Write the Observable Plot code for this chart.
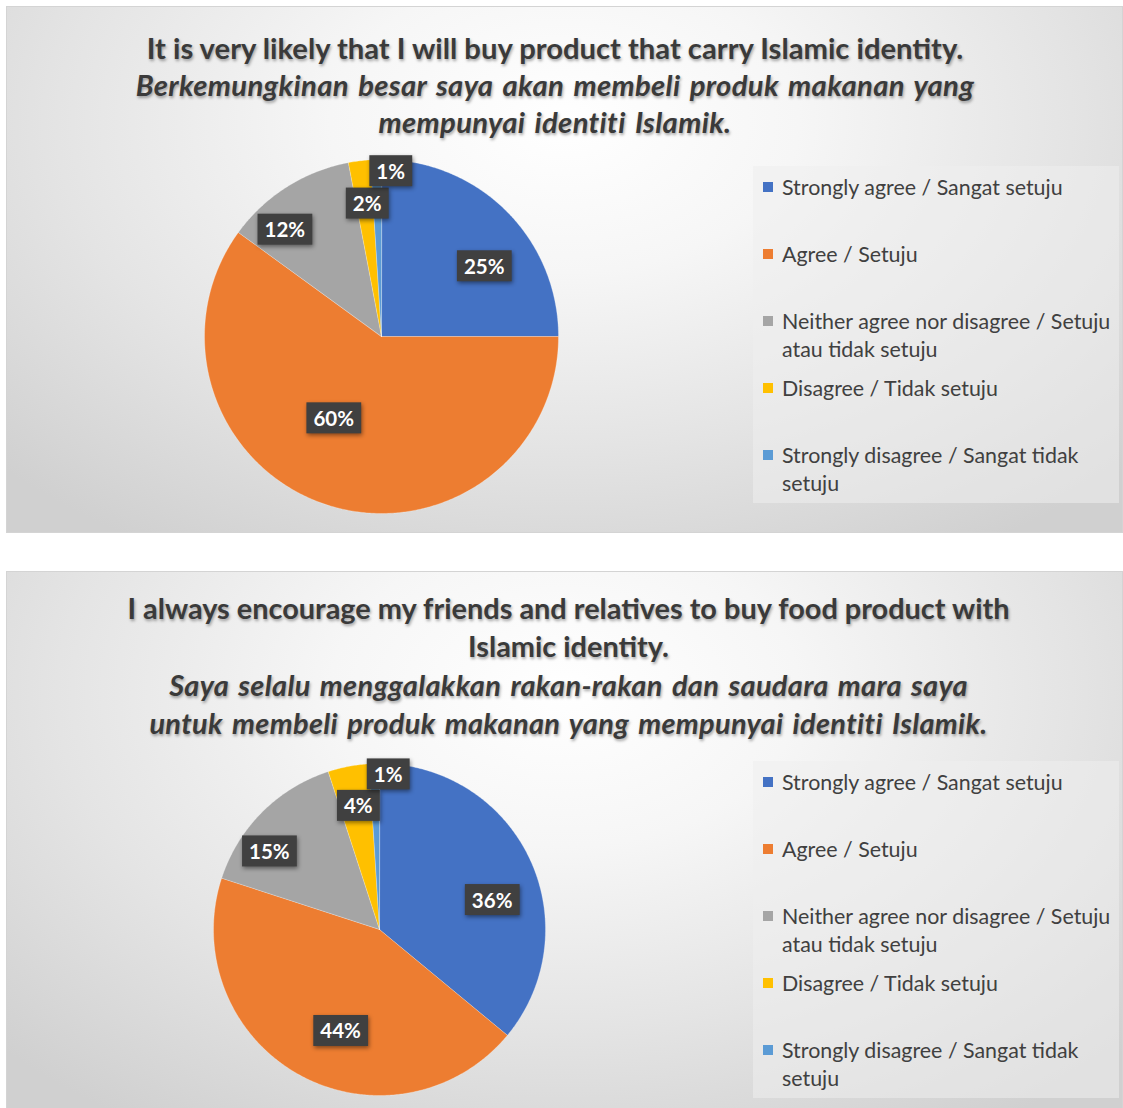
<!DOCTYPE html>
<html>
<head>
<meta charset="utf-8">
<script src="https://cdn.jsdelivr.net/npm/d3@7"></script>
<script src="https://cdn.jsdelivr.net/npm/@observablehq/plot@0.6"></script>
<style>
  html, body { margin: 0; padding: 0; background: #ffffff; }
  body { width: 1123px; height: 1108px; position: relative; overflow: hidden; font-family: Lato, "Open Sans", "Noto Sans", sans-serif; }
  .panel { position: absolute; left: 6px; width: 1117px; box-sizing: border-box; border: 1px solid #d4d4d4;
    background: radial-gradient(ellipse 70% 95% at 50% 22%, #ffffff 0%, #f6f6f6 30%, #e4e4e4 65%, #d0d0d0 100%); }
  .title { position: absolute; left: 0; width: 100%; text-align: center; color: #3a3a3a; font-weight: 700;
    text-shadow: 1px 2px 3px rgba(0,0,0,0.35); }
  .title div { white-space: nowrap; }
  .title .it { font-style: italic; letter-spacing: 0.35px; word-spacing: 2.5px; }
  .legend { position: absolute; left: 746px; width: 366px; background: rgba(238,238,238,0.55); box-sizing: border-box; padding-left: 10px; }
  .item { position: relative; height: 67px; padding-left: 19px; color: #404040; font-size: 21.4px; line-height: 28px; box-sizing: border-box; }
  .item .sw { position: absolute; left: 0px; top: 9px; width: 10px; height: 10px; }
  .pie { position: absolute; }
  .pie svg { overflow: visible; }
</style>
</head>
<body>
<script>
// ---- data ----
const categories = [
  "Strongly agree / Sangat setuju",
  "Agree / Setuju",
  "Neither agree nor disagree / Setuju atau tidak setuju",
  "Disagree / Tidak setuju",
  "Strongly disagree / Sangat tidak setuju"
];
const colors = ["#4472C4", "#ED7D31", "#A5A5A5", "#FFC000", "#5B9BD5"];
const values1 = [25, 60, 12, 2, 1];
const values2 = [36, 44, 15, 4, 1];
const title1Lines = ["It is very likely that I will buy product that carry Islamic identity."];
const title1ItalicLines = ["Berkemungkinan besar saya akan membeli produk makanan yang", "mempunyai identiti Islamik."];
const title2Lines = ["I always encourage my friends and relatives to buy food product with", "Islamic identity."];
const title2ItalicLines = ["Saya selalu menggalakkan rakan-rakan dan saudara mara saya", "untuk membeli produk makanan yang mempunyai identiti Islamik."];

// ---- helpers ----
const DEG = Math.PI / 180;
function labelPlacement(v, mid, i, n) {
  // heuristic "best fit" placement by slice size
  let f, da = 0;
  if (v >= 50) { f = 0.54; da = 12; }
  else if (v >= 40) { f = 0.66; da = -8; }
  else if (v >= 20) { f = 0.70; da = 11; }
  else if (v >= 10) { f = 0.81; da = -10; }
  else if (v >= 2) { f = 0.75; da = 1; }
  else { f = 0.93; da = i === n - 1 ? 5 : 0; }
  const a = mid + da * DEG;
  return {x: f * Math.sin(a), y: f * Math.cos(a)};
}

function makePie(values, r) {
  const pad = 40;
  const s = 2 * (r + pad);
  const k = (r + pad) / r;
  const arcs = d3.pie().sort(null).value(d => d)(values);
  const pts = [];
  const labels = [];
  arcs.forEach((a, i) => {
    const step = Math.PI / 360;
    const n = Math.max(2, Math.ceil((a.endAngle - a.startAngle) / step));
    pts.push({cat: categories[i], x: 0, y: 0});
    for (let j = 0; j <= n; j++) {
      const t = a.startAngle + (a.endAngle - a.startAngle) * j / n;
      pts.push({cat: categories[i], x: Math.sin(t), y: Math.cos(t)});
    }
    const mid = (a.startAngle + a.endAngle) / 2;
    labels.push({...labelPlacement(values[i], mid, i, values.length), text: values[i] + "%"});
  });
  return Plot.plot({
    width: s, height: s, margin: 0,
    x: {domain: [-k, k], axis: null},
    y: {domain: [-k, k], axis: null},
    color: {domain: categories, range: colors},
    style: {background: "transparent", overflow: "visible"},
    marks: [
      Plot.line(pts, {x: "x", y: "y", z: "cat", fill: "cat", stroke: "#ffffff", strokeWidth: 0.8, strokeOpacity: 0.35, curve: "linear-closed"}),
      Plot.text(labels, {x: "x", y: "y", text: "text", fill: "#ffffff", fontWeight: "bold", fontSize: 20.5, fontFamily: "Lato, sans-serif"})
    ]
  });
}

function addLabelBoxes(svg) {
  svg.querySelectorAll('g[aria-label="text"] text').forEach(t => {
    const b = t.getBBox();
    const rect = document.createElementNS("http://www.w3.org/2000/svg", "rect");
    const padX = 7, padY = 4;
    rect.setAttribute("x", b.x - padX);
    rect.setAttribute("y", b.y - padY + 0.5);
    rect.setAttribute("width", b.width + 2 * padX);
    rect.setAttribute("height", b.height + 2 * padY - 1);
    rect.setAttribute("fill", "#404040");
    rect.setAttribute("style", "filter: drop-shadow(1px 2px 2px rgba(0,0,0,0.45))");
    if (t.getAttribute("transform")) rect.setAttribute("transform", t.getAttribute("transform"));
    t.parentNode.insertBefore(rect, t);
  });
  const g = svg.querySelector('g[aria-label="text"]');
  if (g) g.querySelectorAll("text").forEach(t => g.appendChild(t));
}

function buildPanel(cfg) {
  const panel = document.createElement("div");
  panel.className = "panel";
  panel.style.top = cfg.top + "px";
  panel.style.height = cfg.height + "px";
  document.body.appendChild(panel);

  const title = document.createElement("div");
  title.className = "title";
  title.style.top = cfg.titleTop + "px";
  title.style.fontSize = cfg.titleSize + "px";
  title.style.lineHeight = cfg.titleLH + "px";
  title.style.transform = `translateX(${cfg.titleShift}px)`;
  cfg.lines.forEach(l => { const d = document.createElement("div"); d.textContent = l; title.appendChild(d); });
  cfg.italic.forEach(l => { const d = document.createElement("div"); d.className = "it"; d.textContent = l; title.appendChild(d); });
  panel.appendChild(title);

  const legend = document.createElement("div");
  legend.className = "legend";
  legend.style.top = cfg.legendTop + "px";
  legend.style.paddingTop = "7px";
  legend.style.height = "337px";
  categories.forEach((c, i) => {
    const it = document.createElement("div");
    it.className = "item";
    const sw = document.createElement("span");
    sw.className = "sw"; sw.style.background = colors[i];
    it.appendChild(sw);
    it.appendChild(document.createTextNode(c));
    legend.appendChild(it);
  });
  panel.appendChild(legend);

  const pieDiv = document.createElement("div");
  pieDiv.className = "pie";
  const svg = makePie(cfg.values, cfg.r);
  const s = 2 * (cfg.r + 40);
  pieDiv.style.left = (cfg.cx - s / 2) + "px";
  pieDiv.style.top = (cfg.cy - s / 2) + "px";
  pieDiv.appendChild(svg);
  panel.appendChild(pieDiv);
  addLabelBoxes(svg);
}

buildPanel({top: 6, height: 527, titleTop: 22, titleSize: 29.2, titleLH: 37, titleShift: -9.5,
  lines: title1Lines, italic: title1ItalicLines, legendTop: 159, values: values1, r: 177, cx: 374, cy: 329});
buildPanel({top: 571, height: 545, titleTop: 17, titleSize: 28.9, titleLH: 38.3, titleShift: 4,
  lines: title2Lines, italic: title2ItalicLines, legendTop: 189, values: values2, r: 166, cx: 372, cy: 357});
</script>
</body>
</html>
